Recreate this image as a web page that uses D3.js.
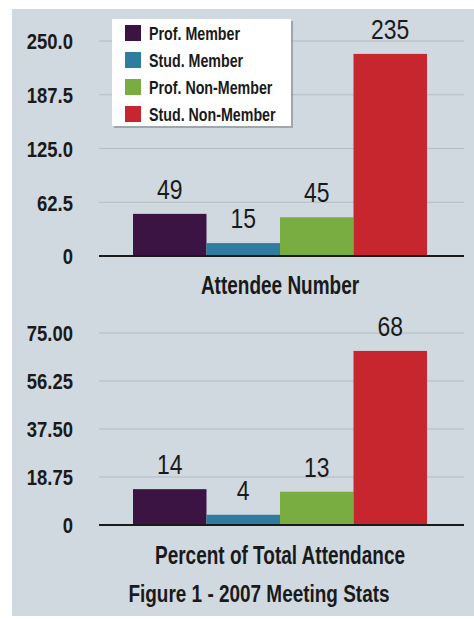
<!DOCTYPE html>
<html>
<head>
<meta charset="utf-8">
<script src="https://cdn.jsdelivr.net/npm/d3@7"></script>
<style>
  body { margin: 0; background: #fff; }
  text { font-family: "Liberation Sans", Arial, sans-serif; fill: #1a1a1a; }
</style>
</head>
<body>
<svg id="chart" width="474" height="619"></svg>
<script>
// categories + values
var categories = ["Prof. Member", "Stud. Member", "Prof. Non-Member", "Stud. Non-Member"];
var colors = ["#3c1444", "#2f7ca0", "#79ad42", "#c8262f"];
var attendees = [49, 15, 45, 235];
var percents = [14, 4, 13, 68];
var ticksTop = [0, 62.5, 125, 187.5, 250];
var ticksBottom = [0, 18.75, 37.5, 56.25, 75];

var svg = d3.select("#chart");

// no condensed font installed, so squeeze text horizontally around its anchor
function condense(sel, sx) {
  sel.each(function () {
    var t = d3.select(this);
    var x = +t.attr("x") || 0;
    t.attr("transform", `translate(${x},0) scale(${sx},1) translate(${-x},0)`);
  });
}

// panel background
svg.append("rect")
  .attr("x", 12).attr("y", 9)
  .attr("width", 462).attr("height", 607)
  .attr("fill", "#d0d9e0");

function drawPanel(values, ticks, fmt, y0, y1, title, titleY) {
  var x = d3.scaleBand().domain(categories).range([133, 427]).padding(0);
  var y = d3.scaleLinear().domain([0, ticks[ticks.length - 1]]).range([y0, y1]);

  var g = svg.append("g");

  // gridlines
  g.selectAll(".grid")
    .data(ticks.slice(1))
    .join("line")
    .attr("x1", 99).attr("x2", 464)
    .attr("y1", (d) => y(d)).attr("y2", (d) => y(d))
    .attr("stroke", "#b4bcc2")
    .attr("stroke-width", 1.2);

  // y axis labels
  var yAxis = d3.axisLeft(y).tickValues(ticks).tickSize(0).tickPadding(0)
    .tickFormat((d) => d === 0 ? "0" : fmt(d));
  var ag = g.append("g")
    .attr("transform", "translate(73,0)")
    .call(yAxis);
  ag.select(".domain").remove();
  ag.selectAll("text")
    .attr("font-size", 22)
    .attr("font-weight", "bold")
    .attr("fill", "#1f1f1f")
    .attr("dy", "0.36em")
    .style("font-family", "Liberation Sans, sans-serif")
    .call(condense, 0.84);

  // bars
  g.selectAll(".bar")
    .data(values)
    .join("rect")
    .attr("x", (d, i) => x(categories[i]))
    .attr("y", (d) => y(d))
    .attr("width", x.bandwidth())
    .attr("height", (d) => y(0) - y(d))
    .attr("fill", (d, i) => colors[i]);

  // baseline
  g.append("line")
    .attr("x1", 99).attr("x2", 464)
    .attr("y1", y(0)).attr("y2", y(0))
    .attr("stroke", "#1a1a1a")
    .attr("stroke-width", 2);

  // value labels
  g.selectAll(".val")
    .data(values)
    .join("text")
    .attr("x", (d, i) => x(categories[i]) + x.bandwidth() / 2)
    .attr("y", (d) => y(d) - 15)
    .attr("text-anchor", "middle")
    .attr("font-size", 27)
    .text((d) => d)
    .call(condense, 0.85);

  g.append("text")
    .attr("x", 280).attr("y", titleY)
    .attr("text-anchor", "middle")
    .attr("font-size", 25)
    .attr("font-weight", "bold")
    .text(title)
    .call(condense, 0.76);
}

drawPanel(attendees, ticksTop, d3.format(".1f"), 256, 41, "Attendee Number", 294);
drawPanel(percents, ticksBottom, d3.format(".2f"), 525, 333, "Percent of Total Attendance", 564);

svg.append("text")
  .attr("x", 259).attr("y", 602)
  .attr("text-anchor", "middle")
  .attr("font-size", 24)
  .attr("font-weight", "bold")
  .text("Figure 1 - 2007 Meeting Stats")
  .call(condense, 0.79);

// legend
var lg = svg.append("g").attr("transform", "translate(112,19)");
lg.append("rect")
  .attr("x", 2).attr("y", 2)
  .attr("width", 179).attr("height", 107)
  .attr("fill", "#7f868a").attr("opacity", 0.6);
lg.append("rect")
  .attr("width", 179).attr("height", 107)
  .attr("fill", "#fff");

var rows = lg.selectAll(".row")
  .data(categories)
  .join("g")
  .attr("transform", (d, i) => `translate(13, ${6 + i * 27})`);
rows.append("rect")
  .attr("width", 16).attr("height", 16)
  .attr("fill", (d, i) => colors[i]);
rows.append("text")
  .attr("x", 24).attr("y", 15)
  .attr("font-size", 19)
  .attr("font-weight", "bold")
  .text((d) => d)
  .call(condense, 0.75);
</script>
</body>
</html>
